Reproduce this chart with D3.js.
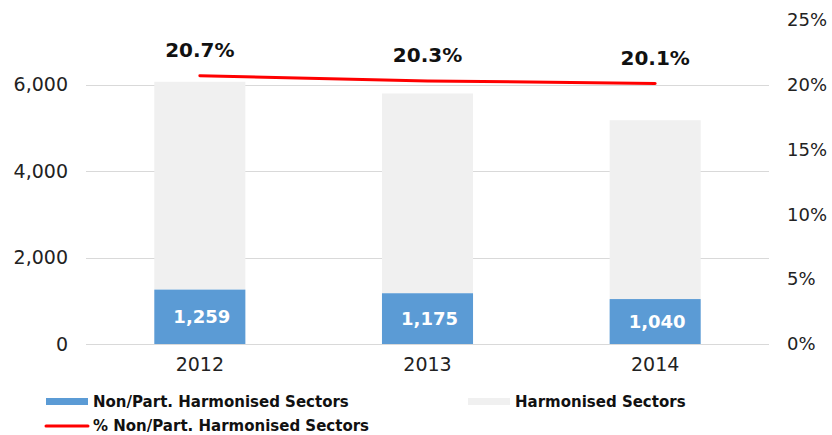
<!DOCTYPE html>
<html>
<head>
<meta charset="utf-8">
<script src="https://cdn.jsdelivr.net/npm/d3@7"></script>
<style>
  body { margin: 0; background: #fff; }
  text { font-family: "DejaVu Sans", Verdana, sans-serif; }
</style>
</head>
<body>
<div id="viz"></div>
<script>
const width = 832;
const height = 435;
const margin = {top: 20, right: 63, bottom: 91, left: 86};
const colorNon = '#5b9bd5';
const colorHarm = '#f0f0f0';
const colorLine = '#ff0000';

// data
const years = ['2012', '2013', '2014'];
const nonHarmonised = [1259, 1175, 1040];
const harmonised = [4811, 4625, 4140];
const pctNonHarmonised = [20.7, 20.3, 20.1];
const leftTicks = [0, 2000, 4000, 6000];
const rightTicks = [0, 5, 10, 15, 20, 25];

const data = years.map((y, i) => ({
  year: y,
  non: nonHarmonised[i],
  harm: harmonised[i],
  pct: pctNonHarmonised[i]
}));

const svg = d3.select('#viz')
  .append('svg')
  .attr('width', width)
  .attr('height', height);

const x = d3.scaleBand()
  .domain(years)
  .range([margin.left, width - margin.right])
  .paddingInner(0.6)
  .paddingOuter(0.3);

const y = d3.scaleLinear()
  .domain([0, 7500])
  .range([height - margin.bottom, margin.top]);

const yRight = d3.scaleLinear()
  .domain([0, 25])
  .range([height - margin.bottom, margin.top]);

// gridlines
svg.append('g')
  .selectAll('line')
  .data(leftTicks)
  .join('line')
    .attr('x1', margin.left)
    .attr('x2', width - margin.right)
    .attr('y1', d => Math.round(y(d)) + 0.5)
    .attr('y2', d => Math.round(y(d)) + 0.5)
    .attr('stroke', '#d9d9d9')
    .attr('stroke-width', 1);

// left axis labels
const yAxis = svg.append('g')
  .attr('transform', `translate(${margin.left}, 0)`)
  .call(d3.axisLeft(y).tickValues(leftTicks).tickSize(0).tickPadding(18).tickFormat(d3.format(',')));
yAxis.select('.domain').remove();
yAxis.selectAll('text')
  .attr('font-size', 19)
  .attr('fill', '#222')
  .style('font-family', '"DejaVu Sans", sans-serif');

// right axis labels
const yAxisRight = svg.append('g')
  .attr('transform', `translate(${width - margin.right}, 0)`)
  .call(d3.axisRight(yRight).tickValues(rightTicks).tickSize(0).tickPadding(18).tickFormat(d => d + '%'));
yAxisRight.select('.domain').remove();
yAxisRight.selectAll('text')
  .attr('font-size', 18)
  .attr('fill', '#222')
  .style('font-family', '"DejaVu Sans", sans-serif');

// x axis labels
const xAxis = svg.append('g')
  .attr('transform', `translate(0, ${height - margin.bottom})`)
  .call(d3.axisBottom(x).tickSize(0).tickPadding(14));
xAxis.select('.domain').remove();
xAxis.selectAll('text')
  .attr('font-size', 19)
  .attr('fill', '#222')
  .style('font-family', '"DejaVu Sans", sans-serif');

// stacked bars
const bars = svg.append('g').attr('class', 'bars');
bars.selectAll('.bar-harm')
  .data(data)
  .join('rect')
    .attr('class', 'bar-harm')
    .attr('x', d => x(d.year))
    .attr('width', x.bandwidth())
    .attr('y', d => y(d.non + d.harm))
    .attr('height', d => y(d.non) - y(d.non + d.harm))
    .attr('fill', colorHarm);

bars.selectAll('.bar-non')
  .data(data)
  .join('rect')
    .attr('class', 'bar-non')
    .attr('x', d => x(d.year))
    .attr('width', x.bandwidth())
    .attr('y', d => y(d.non))
    .attr('height', d => y(0) - y(d.non))
    .attr('fill', colorNon);

bars.selectAll('.bar-label')
  .data(data)
  .join('text')
    .attr('class', 'bar-label')
    .attr('x', d => x(d.year) + x.bandwidth() / 2 + 2)
    .attr('y', d => (y(0) + y(d.non)) / 2)
    .attr('dy', '0.36em')
    .attr('text-anchor', 'middle')
    .attr('font-size', 18)
    .attr('font-weight', 'bold')
    .attr('fill', '#fff')
    .text(d => d3.format(',')(d.non));

// % line
const line = d3.line()
  .x(d => x(d.year) + x.bandwidth() / 2)
  .y(d => yRight(d.pct));

svg.append('path')
  .datum(data)
  .attr('d', line)
  .attr('fill', 'none')
  .attr('stroke', colorLine)
  .attr('stroke-width', 3)
  .attr('stroke-linecap', 'round');

svg.selectAll('.pct-label')
  .data(data)
  .join('text')
    .attr('class', 'pct-label')
    .attr('x', d => x(d.year) + x.bandwidth() / 2)
    .attr('y', d => yRight(d.pct) - 19)
    .attr('text-anchor', 'middle')
    .attr('font-size', 20)
    .attr('font-weight', 'bold')
    .attr('fill', '#111')
    .text(d => d.pct.toFixed(1) + '%');

// legend
const legend = svg.append('g').attr('class', 'legend');
const legendItems = [
  {label: 'Non/Part. Harmonised Sectors', type: 'rect', color: colorNon, x: 46, y: 402},
  {label: 'Harmonised Sectors', type: 'rect', color: colorHarm, x: 468, y: 402},
  {label: '% Non/Part. Harmonised Sectors', type: 'line', color: colorLine, x: 46, y: 426}
];

legendItems.forEach(item => {
  if (item.type === 'rect') {
    legend.append('rect')
      .attr('x', item.x)
      .attr('y', item.y - 4)
      .attr('width', 42)
      .attr('height', 7)
      .attr('fill', item.color);
  } else {
    legend.append('line')
      .attr('x1', item.x)
      .attr('x2', item.x + 42)
      .attr('y1', item.y)
      .attr('y2', item.y)
      .attr('stroke', item.color)
      .attr('stroke-width', 3)
      .attr('stroke-linecap', 'round');
  }
  legend.append('text')
    .attr('x', item.x + 47)
    .attr('y', item.y)
    .attr('dy', '0.36em')
    .attr('font-size', 15)
    .attr('font-weight', 'bold')
    .attr('fill', '#111')
    .text(item.label);
});
</script>
</body>
</html>
